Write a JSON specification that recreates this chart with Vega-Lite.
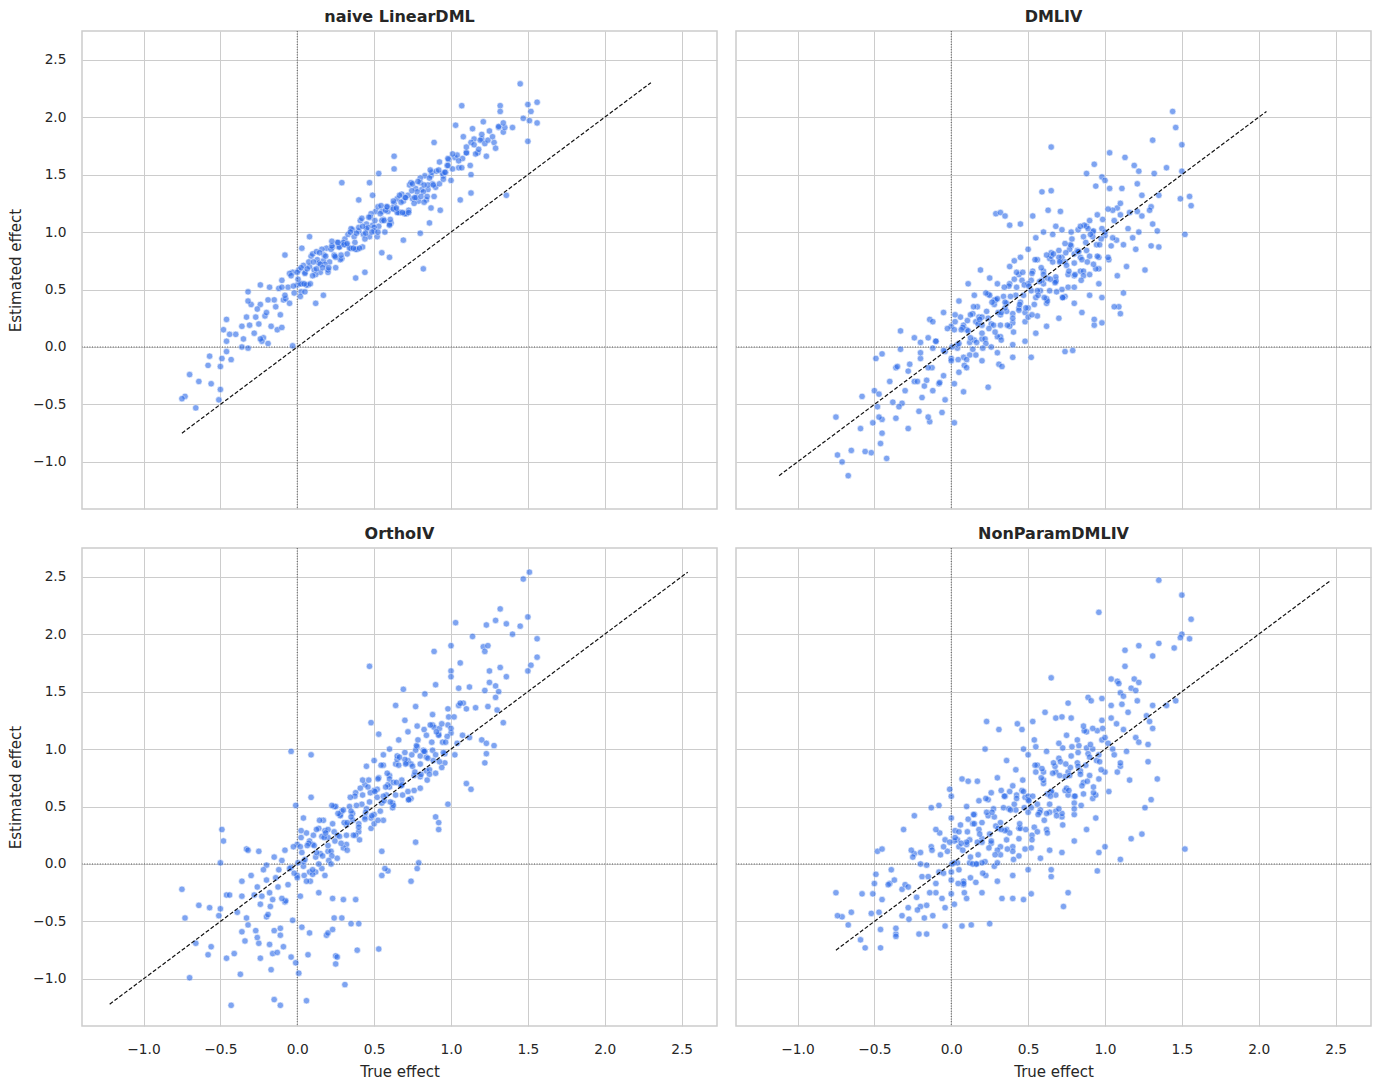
{
  "$schema": "https://vega.github.io/schema/vega-lite/v6.json",
  "description": "True vs estimated treatment effect for four estimators",
  "background": "white",
  "padding": {"left": 7, "top": 7, "right": 12, "bottom": 8},
  "config": {
    "font": "DejaVu Sans",
    "view": {"stroke": "#cccccc", "strokeWidth": 1.5},
    "axis": {
      "grid": true, "gridColor": "#cccccc", "gridWidth": 1,
      "domain": false, "ticks": false, "tickSize": 0,
      "labelFontSize": 13.75, "labelColor": "#262626", "labelPadding": 16,
      "titleFontSize": 15, "titleFontWeight": "normal", "titleColor": "#262626", "titlePadding": 9
    },
    "title": {"fontSize": 16, "fontWeight": "bold", "color": "#262626", "offset": 6}
  },
  "datasets": {
    "p1": [
      {"x":-0.30,"y":0.37},{"x":-0.27,"y":0.26},{"x":-0.24,"y":0.37},{"x":-0.21,"y":0.27},{"x":-0.18,"y":0.52},{"x":-0.15,"y":0.41},{"x":-0.12,"y":0.51},{"x":-0.09,"y":0.41},{"x":-0.06,"y":0.52},{"x":-0.03,"y":0.65},{"x":0.00,"y":0.54},
      {"x":0.01,"y":0.67},{"x":0.03,"y":0.55},{"x":0.05,"y":0.65},{"x":0.07,"y":0.54},{"x":0.09,"y":0.79},{"x":0.11,"y":0.67},{"x":0.13,"y":0.76},{"x":0.15,"y":0.65},{"x":0.17,"y":0.75},{"x":0.19,"y":0.86},{"x":0.21,"y":0.74},{"x":0.23,"y":0.87},{"x":0.25,"y":0.69},{"x":0.27,"y":0.87},{"x":0.29,"y":0.77},{"x":0.31,"y":0.94},{"x":0.33,"y":0.98},{"x":0.35,"y":0.86},{"x":0.37,"y":0.96},{"x":0.39,"y":0.85},{"x":0.41,"y":1.10},{"x":0.43,"y":0.98},{"x":0.45,"y":1.07},{"x":0.47,"y":0.96},{"x":0.49,"y":1.06},{"x":0.51,"y":1.18},{"x":0.53,"y":1.05},{"x":0.55,"y":1.18},{"x":0.57,"y":1.00},{"x":0.59,"y":1.18},{"x":0.61,"y":1.08},{"x":0.63,"y":1.25},{"x":0.65,"y":1.29},{"x":0.67,"y":1.17},{"x":0.69,"y":1.27},{"x":0.71,"y":1.16},{"x":0.73,"y":1.41},{"x":0.75,"y":1.29},{"x":0.77,"y":1.38},{"x":0.79,"y":1.27},{"x":0.81,"y":1.37},{"x":0.83,"y":1.49},{"x":0.85,"y":1.37},{"x":0.87,"y":1.49},{"x":0.89,"y":1.31},
      {"x":0.02,"y":0.55},{"x":0.04,"y":0.71},{"x":0.06,"y":0.54},{"x":0.08,"y":0.70},{"x":0.10,"y":0.81},{"x":0.12,"y":0.63},{"x":0.14,"y":0.73},{"x":0.16,"y":0.85},{"x":0.18,"y":0.72},{"x":0.20,"y":0.65},{"x":0.22,"y":0.85},{"x":0.24,"y":0.80},{"x":0.26,"y":0.91},{"x":0.28,"y":0.76},{"x":0.30,"y":0.90},{"x":0.32,"y":0.89},{"x":0.34,"y":0.86},{"x":0.36,"y":1.02},{"x":0.38,"y":0.85},{"x":0.40,"y":1.01},{"x":0.42,"y":1.12},{"x":0.44,"y":0.94},{"x":0.46,"y":1.04},{"x":0.48,"y":1.16},{"x":0.50,"y":1.04},{"x":0.52,"y":0.96},{"x":0.54,"y":1.16},{"x":0.56,"y":1.11},{"x":0.58,"y":1.22},{"x":0.60,"y":1.07},{"x":0.62,"y":1.21},{"x":0.64,"y":1.20},{"x":0.66,"y":1.17},{"x":0.68,"y":1.33},{"x":0.70,"y":1.16},{"x":0.72,"y":1.32},{"x":0.74,"y":1.43},{"x":0.76,"y":1.25},{"x":0.78,"y":1.35},{"x":0.80,"y":1.47},{"x":0.82,"y":1.35},{"x":0.84,"y":1.28},{"x":0.86,"y":1.47},{"x":0.88,"y":1.42},
      {"x":-0.100,"y":0.52},{"x":-0.075,"y":0.42},{"x":-0.050,"y":0.64},{"x":-0.025,"y":0.53},{"x":0.000,"y":0.65},{"x":0.025,"y":0.48},{"x":0.050,"y":0.64},{"x":0.075,"y":0.74},{"x":0.100,"y":0.62},{"x":0.125,"y":0.83},{"x":0.150,"y":0.72},{"x":0.175,"y":0.80},{"x":0.200,"y":0.67},{"x":0.225,"y":0.88},{"x":0.250,"y":0.78},{"x":0.275,"y":0.87},{"x":0.300,"y":0.91},{"x":0.325,"y":0.81},{"x":0.350,"y":1.03},{"x":0.375,"y":0.91},{"x":0.400,"y":1.04},{"x":0.425,"y":0.87},{"x":0.450,"y":1.03},{"x":0.475,"y":1.13},{"x":0.500,"y":1.01},{"x":0.525,"y":1.22},{"x":0.550,"y":1.10},{"x":0.575,"y":1.19},{"x":0.600,"y":1.06},{"x":0.625,"y":1.27},{"x":0.650,"y":1.17},{"x":0.675,"y":1.26},{"x":0.700,"y":1.30},{"x":0.725,"y":1.19},{"x":0.750,"y":1.42},{"x":0.775,"y":1.30},{"x":0.800,"y":1.43},{"x":0.825,"y":1.26},{"x":0.850,"y":1.41},{"x":0.875,"y":1.52},{"x":0.900,"y":1.39},{"x":0.925,"y":1.61},{"x":0.950,"y":1.49},{"x":0.975,"y":1.58},{"x":1.000,"y":1.45},{"x":1.025,"y":1.65},{"x":1.050,"y":1.56},{"x":1.075,"y":1.64},{"x":1.100,"y":1.69},{"x":1.125,"y":1.58},{"x":1.150,"y":1.81},{"x":1.175,"y":1.69},{"x":1.200,"y":1.81},
      {"x":0.005,"y":0.59},{"x":0.025,"y":0.69},{"x":0.045,"y":0.55},{"x":0.065,"y":0.68},{"x":0.085,"y":0.55},{"x":0.105,"y":0.74},{"x":0.125,"y":0.68},{"x":0.145,"y":0.82},{"x":0.165,"y":0.69},{"x":0.185,"y":0.79},{"x":0.205,"y":0.69},{"x":0.225,"y":0.92},{"x":0.245,"y":0.79},{"x":0.265,"y":0.91},{"x":0.285,"y":0.80},{"x":0.305,"y":0.89},{"x":0.325,"y":0.90},{"x":0.345,"y":1.00},{"x":0.365,"y":0.86},{"x":0.385,"y":0.99},{"x":0.405,"y":0.86},{"x":0.425,"y":1.05},{"x":0.445,"y":0.99},{"x":0.465,"y":1.13},{"x":0.485,"y":1.00},{"x":0.505,"y":1.10},{"x":0.525,"y":1.00},{"x":0.545,"y":1.23},{"x":0.565,"y":1.10},{"x":0.585,"y":1.22},{"x":0.605,"y":1.11},{"x":0.625,"y":1.20},{"x":0.645,"y":1.21},{"x":0.665,"y":1.32},{"x":0.685,"y":1.17},{"x":0.705,"y":1.30},{"x":0.725,"y":1.17},{"x":0.745,"y":1.36},{"x":0.765,"y":1.30},{"x":0.785,"y":1.44},{"x":0.805,"y":1.31},{"x":0.825,"y":1.41},{"x":0.845,"y":1.31},{"x":0.865,"y":1.54},{"x":0.885,"y":1.41},{"x":0.905,"y":1.53},{"x":0.925,"y":1.42},{"x":0.945,"y":1.51},{"x":0.965,"y":1.52},{"x":0.985,"y":1.63},
      {"x":0.92,"y":1.54},{"x":0.95,"y":1.46},{"x":0.98,"y":1.64},{"x":1.01,"y":1.55},{"x":1.04,"y":1.67},{"x":1.07,"y":1.56},{"x":1.10,"y":1.69},{"x":1.13,"y":1.78},{"x":1.16,"y":1.68},{"x":1.19,"y":1.80},{"x":1.22,"y":1.77},{"x":1.25,"y":1.88},{"x":1.28,"y":1.78},{"x":1.31,"y":1.91},{"x":1.34,"y":1.87},
      {"x":-0.28,"y":0.12},{"x":-0.25,"y":0.20},{"x":-0.22,"y":0.08},{"x":-0.20,"y":0.30},{"x":-0.17,"y":0.18},{"x":-0.14,"y":0.35},{"x":-0.11,"y":0.28},{"x":-0.08,"y":0.45},{"x":-0.05,"y":0.38},{"x":-0.02,"y":0.47},{"x":-0.35,"y":0.07},{"x":-0.31,"y":0.19},{"x":-0.26,"y":0.33},{"x":-0.19,"y":0.41},{"x":-0.10,"y":0.58},{"x":-0.04,"y":0.62},{"x":0.02,"y":0.44},{"x":0.05,"y":0.48},{"x":-0.13,"y":0.15},{"x":-0.23,"y":0.05},
      {"x":1.15,"y":1.76},{"x":1.18,"y":1.72},{"x":1.24,"y":1.80},{"x":1.27,"y":1.83},{"x":1.20,"y":1.85},{"x":1.10,"y":1.74},{"x":1.05,"y":1.62},{"x":0.98,"y":1.58},{"x":1.01,"y":1.68},{"x":0.96,"y":1.52},
      {"x":1.45,"y":2.29},{"x":1.07,"y":2.10},{"x":1.32,"y":2.10},{"x":1.32,"y":2.05},{"x":1.50,"y":2.11},{"x":1.56,"y":2.13},{"x":1.52,"y":2.05},{"x":1.47,"y":1.99},{"x":1.51,"y":1.97},{"x":1.56,"y":1.95},{"x":1.50,"y":1.79},{"x":1.40,"y":1.91},{"x":1.35,"y":1.91},{"x":1.31,"y":1.92},{"x":1.34,"y":1.95},{"x":1.21,"y":1.96},{"x":1.14,"y":1.90},{"x":1.03,"y":1.93},{"x":1.08,"y":1.83},{"x":1.29,"y":1.73},{"x":1.23,"y":1.66},{"x":0.89,"y":1.78},{"x":0.63,"y":1.66},{"x":0.63,"y":1.55},{"x":0.29,"y":1.43},{"x":0.47,"y":1.43},{"x":0.53,"y":1.51},{"x":0.49,"y":1.32},{"x":0.40,"y":1.28},{"x":1.13,"y":1.50},{"x":1.13,"y":1.34},{"x":1.06,"y":1.28},{"x":1.36,"y":1.32},{"x":0.93,"y":1.19},{"x":0.87,"y":1.21},{"x":0.86,"y":1.08},{"x":0.80,"y":0.99},{"x":0.82,"y":0.68},{"x":0.69,"y":0.93},{"x":0.60,"y":0.78},{"x":0.55,"y":0.82},{"x":0.44,"y":0.65},{"x":0.38,"y":0.60},{"x":0.17,"y":0.45},{"x":0.12,"y":0.38},{"x":0.03,"y":0.86},{"x":0.08,"y":0.96},{"x":-0.08,"y":0.80},{"x":-0.24,"y":0.54},{"x":-0.32,"y":0.48},{"x":-0.32,"y":0.40},{"x":-0.46,"y":0.24},{"x":-0.48,"y":0.15},{"x":-0.46,"y":0.05},{"x":-0.44,"y":0.11},{"x":-0.40,"y":0.11},{"x":-0.36,"y":0.18},{"x":-0.33,"y":0.26},{"x":-0.36,"y":0.00},{"x":-0.32,"y":-0.01},{"x":-0.19,"y":0.03},{"x":-0.24,"y":0.07},{"x":-0.10,"y":0.17},{"x":-0.03,"y":0.01},{"x":-0.46,"y":-0.04},{"x":-0.49,"y":-0.10},{"x":-0.43,"y":-0.11},{"x":-0.57,"y":-0.08},{"x":-0.58,"y":-0.16},{"x":-0.50,"y":-0.17},{"x":-0.70,"y":-0.24},{"x":-0.64,"y":-0.30},{"x":-0.56,"y":-0.32},{"x":-0.50,"y":-0.37},{"x":-0.51,"y":-0.46},{"x":-0.73,"y":-0.43},{"x":-0.75,"y":-0.45},{"x":-0.66,"y":-0.53}
    ],
    "p2": [
      {"x":-0.36,"y":-0.18},{"x":-0.32,"y":-0.49},{"x":-0.28,"y":-0.21},{"x":-0.24,"y":-0.30},{"x":-0.20,"y":0.04},{"x":-0.16,"y":-0.29},{"x":-0.12,"y":-0.01},{"x":-0.08,"y":-0.32},{"x":-0.04,"y":-0.04},{"x":0.00,"y":0.18},{"x":0.04,"y":-0.01},{"x":0.08,"y":0.19},{"x":0.12,"y":-0.07},{"x":0.16,"y":0.22},{"x":0.20,"y":0.07},{"x":0.24,"y":0.25},{"x":0.28,"y":0.41},{"x":0.32,"y":0.09},{"x":0.36,"y":0.38},{"x":0.40,"y":0.29},{"x":0.44,"y":0.63},{"x":0.48,"y":0.30},{"x":0.52,"y":0.58},{"x":0.56,"y":0.27},{"x":0.60,"y":0.55},{"x":0.64,"y":0.77},{"x":0.68,"y":0.58},{"x":0.72,"y":0.78},{"x":0.76,"y":0.52},{"x":0.80,"y":0.81},{"x":0.84,"y":0.66},{"x":0.88,"y":0.84},{"x":0.92,"y":1.00},{"x":0.96,"y":0.68},{"x":1.00,"y":0.97},{"x":1.04,"y":0.88},{"x":1.08,"y":1.21},{"x":1.12,"y":0.89},{"x":1.16,"y":1.17},{"x":1.20,"y":0.85},{"x":1.24,"y":1.14},
      {"x":0.00,"y":-0.10},{"x":0.02,"y":0.15},{"x":0.04,"y":0.02},{"x":0.06,"y":0.26},{"x":0.08,"y":-0.09},{"x":0.10,"y":0.15},{"x":0.12,"y":0.04},{"x":0.14,"y":0.29},{"x":0.16,"y":-0.07},{"x":0.18,"y":0.26},{"x":0.20,"y":0.19},{"x":0.22,"y":0.07},{"x":0.24,"y":0.46},{"x":0.26,"y":0.20},{"x":0.28,"y":0.37},{"x":0.30,"y":0.09},{"x":0.32,"y":0.19},{"x":0.34,"y":0.44},{"x":0.36,"y":0.31},{"x":0.38,"y":0.55},{"x":0.40,"y":0.21},{"x":0.42,"y":0.45},{"x":0.44,"y":0.34},{"x":0.46,"y":0.58},{"x":0.48,"y":0.22},{"x":0.50,"y":0.55},{"x":0.52,"y":0.49},{"x":0.54,"y":0.37},{"x":0.56,"y":0.76},{"x":0.58,"y":0.49},{"x":0.60,"y":0.66},{"x":0.62,"y":0.38},{"x":0.64,"y":0.49},{"x":0.66,"y":0.74},{"x":0.68,"y":0.61},{"x":0.70,"y":0.84},{"x":0.72,"y":0.50},{"x":0.74,"y":0.74},{"x":0.76,"y":0.63},{"x":0.78,"y":0.88},{"x":0.80,"y":0.52},{"x":0.82,"y":0.84},{"x":0.84,"y":0.78},{"x":0.86,"y":0.66},{"x":0.88,"y":1.05},{"x":0.90,"y":0.79},{"x":0.92,"y":0.96},{"x":0.94,"y":0.68},{"x":0.96,"y":0.78},{"x":0.98,"y":1.03},
      {"x":0.11,"y":0.14},{"x":0.14,"y":-0.02},{"x":0.17,"y":0.35},{"x":0.20,"y":0.12},{"x":0.23,"y":0.31},{"x":0.26,"y":0.00},{"x":0.29,"y":0.41},{"x":0.32,"y":0.28},{"x":0.35,"y":0.39},{"x":0.38,"y":0.18},{"x":0.41,"y":0.59},{"x":0.44,"y":0.32},{"x":0.47,"y":0.45},{"x":0.50,"y":0.34},{"x":0.53,"y":0.66},{"x":0.56,"y":0.49},{"x":0.59,"y":0.58},{"x":0.62,"y":0.42},{"x":0.65,"y":0.79},{"x":0.68,"y":0.57},{"x":0.71,"y":0.75},{"x":0.74,"y":0.44},{"x":0.77,"y":0.85},{"x":0.80,"y":0.73},{"x":0.83,"y":0.83},{"x":0.86,"y":0.62},{"x":0.89,"y":1.03},
      {"x":-0.200,"y":-0.10},{"x":-0.175,"y":-0.34},{"x":-0.150,"y":0.08},{"x":-0.125,"y":-0.18},{"x":-0.100,"y":0.05},{"x":-0.075,"y":-0.31},{"x":-0.050,"y":-0.03},{"x":-0.025,"y":0.16},{"x":0.000,"y":-0.12},{"x":0.025,"y":0.28},{"x":0.050,"y":0.03},{"x":0.075,"y":0.17},{"x":0.100,"y":-0.11},{"x":0.125,"y":0.28},{"x":0.150,"y":0.06},{"x":0.175,"y":0.20},{"x":0.200,"y":0.26},{"x":0.225,"y":0.03},{"x":0.250,"y":0.45},{"x":0.275,"y":0.19},{"x":0.300,"y":0.42},{"x":0.325,"y":0.06},{"x":0.350,"y":0.34},{"x":0.375,"y":0.53},{"x":0.400,"y":0.25},{"x":0.425,"y":0.65},{"x":0.450,"y":0.39},{"x":0.475,"y":0.54},{"x":0.500,"y":0.26},{"x":0.525,"y":0.64},{"x":0.550,"y":0.43},{"x":0.575,"y":0.57},{"x":0.600,"y":0.63},{"x":0.625,"y":0.40},{"x":0.650,"y":0.82},{"x":0.675,"y":0.56},{"x":0.700,"y":0.78},{"x":0.725,"y":0.43},{"x":0.750,"y":0.71},{"x":0.775,"y":0.89},{"x":0.800,"y":0.62},{"x":0.825,"y":1.02},{"x":0.850,"y":0.76},{"x":0.875,"y":0.91},{"x":0.900,"y":0.63},{"x":0.925,"y":1.01},{"x":0.950,"y":0.79},{"x":0.975,"y":0.94},{"x":1.000,"y":1.00},{"x":1.025,"y":0.76},{"x":1.050,"y":1.19},{"x":1.075,"y":0.93},{"x":1.100,"y":1.15},
      {"x":0.005,"y":0.00},{"x":0.025,"y":0.22},{"x":0.045,"y":-0.11},{"x":0.065,"y":0.15},{"x":0.085,"y":-0.16},{"x":0.105,"y":0.23},{"x":0.125,"y":0.08},{"x":0.145,"y":0.35},{"x":0.165,"y":0.04},{"x":0.185,"y":0.24},{"x":0.205,"y":-0.01},{"x":0.225,"y":0.47},{"x":0.245,"y":0.16},{"x":0.265,"y":0.39},{"x":0.285,"y":0.13},{"x":0.305,"y":0.30},{"x":0.325,"y":0.30},{"x":0.345,"y":0.52},{"x":0.365,"y":0.19},{"x":0.385,"y":0.44},{"x":0.405,"y":0.13},{"x":0.425,"y":0.52},{"x":0.445,"y":0.37},{"x":0.465,"y":0.65},{"x":0.485,"y":0.34},{"x":0.505,"y":0.53},{"x":0.525,"y":0.28},{"x":0.545,"y":0.76},{"x":0.565,"y":0.45},{"x":0.585,"y":0.69},{"x":0.605,"y":0.43},{"x":0.625,"y":0.60},{"x":0.645,"y":0.59},{"x":0.665,"y":0.81},{"x":0.685,"y":0.48},{"x":0.705,"y":0.74},{"x":0.725,"y":0.43},{"x":0.745,"y":0.82},{"x":0.765,"y":0.66},{"x":0.785,"y":0.94},{"x":0.805,"y":0.63},{"x":0.825,"y":0.83},{"x":0.845,"y":0.58},{"x":0.865,"y":1.06},{"x":0.885,"y":0.74},{"x":0.905,"y":0.98},{"x":0.925,"y":0.72},{"x":0.945,"y":0.89},{"x":0.965,"y":0.89},{"x":0.985,"y":1.11},
      {"x":0.55,"y":0.95},{"x":0.60,"y":1.00},{"x":0.66,"y":0.98},{"x":0.72,"y":1.02},{"x":0.78,"y":1.00},{"x":0.84,"y":1.05},{"x":0.90,"y":1.10},{"x":0.95,"y":1.15},{"x":1.02,"y":1.20},{"x":1.06,"y":1.10},{"x":1.10,"y":1.25},{"x":1.15,"y":1.03},{"x":1.18,"y":0.95},{"x":1.22,"y":1.00},{"x":1.02,"y":0.78},{"x":1.08,"y":0.62},{"x":1.14,"y":0.70},{"x":0.96,"y":0.55},{"x":0.90,"y":0.45},{"x":0.85,"y":0.30},{"x":0.80,"y":0.38},{"x":0.70,"y":0.25},{"x":0.62,"y":0.18},{"x":0.55,"y":0.12},{"x":0.48,"y":0.05},{"x":0.40,"y":0.02},{"x":0.30,"y":-0.05},{"x":0.20,"y":-0.12},{"x":0.10,"y":-0.18},{"x":0.05,"y":-0.22},{"x":-0.05,"y":-0.25},{"x":-0.15,"y":-0.18},{"x":-0.22,"y":-0.30},{"x":-0.27,"y":-0.15},{"x":-0.30,"y":-0.38},{"x":-0.40,"y":-0.30},{"x":-0.20,"y":-0.05},{"x":-0.10,"y":0.05},{"x":0.50,"y":0.85},{"x":0.45,"y":0.78},{"x":0.38,"y":0.70},{"x":0.30,"y":0.55},{"x":0.25,"y":0.60},{"x":0.15,"y":0.45},{"x":0.05,"y":0.40},{"x":0.68,"y":1.05},{"x":0.86,"y":0.96},{"x":1.05,"y":0.95},{"x":0.74,"y":0.90},{"x":0.62,"y":0.80},
      {"x":1.44,"y":2.05},{"x":1.46,"y":1.91},{"x":1.50,"y":1.76},{"x":0.65,"y":1.74},{"x":1.31,"y":1.80},{"x":1.03,"y":1.69},{"x":1.13,"y":1.65},{"x":1.19,"y":1.58},{"x":0.93,"y":1.59},{"x":1.22,"y":1.53},{"x":1.32,"y":1.51},{"x":1.40,"y":1.56},{"x":1.50,"y":1.53},{"x":0.88,"y":1.51},{"x":0.98,"y":1.48},{"x":1.00,"y":1.45},{"x":0.94,"y":1.40},{"x":1.03,"y":1.38},{"x":1.11,"y":1.38},{"x":1.21,"y":1.42},{"x":1.35,"y":1.32},{"x":1.55,"y":1.31},{"x":1.49,"y":1.29},{"x":1.56,"y":1.23},{"x":1.52,"y":0.98},{"x":1.24,"y":1.32},{"x":0.59,"y":1.35},{"x":0.65,"y":1.36},{"x":0.29,"y":1.16},{"x":0.32,"y":1.17},{"x":0.35,"y":1.14},{"x":0.53,"y":1.14},{"x":0.38,"y":1.06},{"x":0.45,"y":1.07},{"x":0.63,"y":1.19},{"x":0.71,"y":1.18},{"x":1.30,"y":1.22},{"x":1.29,"y":1.19},{"x":1.21,"y":1.18},{"x":1.31,"y":1.07},{"x":1.34,"y":1.01},{"x":1.35,"y":0.87},{"x":1.30,"y":0.88},{"x":1.26,"y":0.67},{"x":1.12,"y":0.47},{"x":1.09,"y":0.35},{"x":1.10,"y":0.29},{"x":1.06,"y":0.35},{"x":0.98,"y":0.21},{"x":0.93,"y":0.19},{"x":0.93,"y":0.24},{"x":0.98,"y":0.43},{"x":0.79,"y":-0.03},{"x":0.74,"y":-0.04},{"x":0.52,"y":-0.09},{"x":0.40,"y":-0.09},{"x":0.24,"y":-0.35},{"x":0.08,"y":-0.39},{"x":0.02,"y":-0.32},{"x":0.02,"y":-0.66},{"x":-0.06,"y":-0.57},{"x":-0.04,"y":-0.46},{"x":-0.14,"y":-0.65},{"x":-0.15,"y":-0.61},{"x":-0.21,"y":-0.56},{"x":-0.28,"y":-0.71},{"x":-0.36,"y":-0.62},{"x":-0.38,"y":-0.48},{"x":-0.34,"y":-0.52},{"x":-0.45,"y":-0.63},{"x":-0.47,"y":-0.61},{"x":-0.51,"y":-0.66},{"x":-0.48,"y":-0.52},{"x":-0.46,"y":-0.84},{"x":-0.45,"y":-0.75},{"x":-0.42,"y":-0.97},{"x":-0.52,"y":-0.92},{"x":-0.56,"y":-0.91},{"x":-0.65,"y":-0.90},{"x":-0.75,"y":-0.61},{"x":-0.74,"y":-0.94},{"x":-0.71,"y":-1.00},{"x":-0.67,"y":-1.12},{"x":-0.59,"y":-0.71},{"x":-0.58,"y":-0.43},{"x":-0.50,"y":-0.38},{"x":-0.47,"y":-0.41},{"x":-0.49,"y":-0.10},{"x":-0.45,"y":-0.06},{"x":-0.35,"y":-0.17},{"x":-0.33,"y":0.14},{"x":-0.33,"y":-0.02},{"x":-0.24,"y":0.08},{"x":-0.12,"y":-0.38},{"x":-0.19,"y":-0.44},{"x":-0.05,"y":0.30},{"x":-0.14,"y":0.24},{"x":-0.12,"y":0.22},{"x":0.11,"y":0.55},{"x":0.19,"y":0.67},{"x":0.41,"y":0.75},{"x":0.31,"y":-0.15},{"x":0.33,"y":-0.17}
    ],
    "p3": [
      {"x":-0.36,"y":-0.28},{"x":-0.32,"y":-0.53},{"x":-0.28,"y":-0.27},{"x":-0.24,"y":-0.35},{"x":-0.20,"y":-0.01},{"x":-0.16,"y":-0.31},{"x":-0.12,"y":-0.05},{"x":-0.08,"y":-0.33},{"x":-0.04,"y":-0.03},{"x":0.00,"y":0.17},{"x":0.04,"y":-0.02},{"x":0.08,"y":0.20},{"x":0.12,"y":-0.07},{"x":0.16,"y":0.24},{"x":0.20,"y":0.11},{"x":0.24,"y":0.28},{"x":0.28,"y":0.43},{"x":0.32,"y":0.17},{"x":0.36,"y":0.44},{"x":0.40,"y":0.35},{"x":0.44,"y":0.69},{"x":0.48,"y":0.40},{"x":0.52,"y":0.65},{"x":0.56,"y":0.38},{"x":0.60,"y":0.67},{"x":0.64,"y":0.87},{"x":0.68,"y":0.69},{"x":0.72,"y":0.90},{"x":0.76,"y":0.64},{"x":0.80,"y":0.94},{"x":0.84,"y":0.81},{"x":0.88,"y":0.99},{"x":0.92,"y":1.13},{"x":0.96,"y":0.88},{"x":1.00,"y":1.14},{"x":1.04,"y":1.05},{"x":1.08,"y":1.40},{"x":1.12,"y":1.10},{"x":1.16,"y":1.36},{"x":1.20,"y":1.08},{"x":1.24,"y":1.37},
      {"x":0.00,"y":-0.10},{"x":0.02,"y":0.15},{"x":0.04,"y":0.02},{"x":0.06,"y":0.27},{"x":0.08,"y":-0.07},{"x":0.10,"y":0.17},{"x":0.12,"y":0.06},{"x":0.14,"y":0.31},{"x":0.16,"y":-0.04},{"x":0.18,"y":0.29},{"x":0.20,"y":0.23},{"x":0.22,"y":0.11},{"x":0.24,"y":0.50},{"x":0.26,"y":0.25},{"x":0.28,"y":0.42},{"x":0.30,"y":0.14},{"x":0.32,"y":0.25},{"x":0.34,"y":0.50},{"x":0.36,"y":0.38},{"x":0.38,"y":0.62},{"x":0.40,"y":0.28},{"x":0.42,"y":0.52},{"x":0.44,"y":0.41},{"x":0.46,"y":0.67},{"x":0.48,"y":0.31},{"x":0.50,"y":0.64},{"x":0.52,"y":0.58},{"x":0.54,"y":0.46},{"x":0.56,"y":0.86},{"x":0.58,"y":0.60},{"x":0.60,"y":0.77},{"x":0.62,"y":0.49},{"x":0.64,"y":0.60},{"x":0.66,"y":0.86},{"x":0.68,"y":0.73},{"x":0.70,"y":0.97},{"x":0.72,"y":0.63},{"x":0.74,"y":0.87},{"x":0.76,"y":0.77},{"x":0.78,"y":1.02},{"x":0.80,"y":0.66},{"x":0.82,"y":0.99},{"x":0.84,"y":0.93},{"x":0.86,"y":0.82},{"x":0.88,"y":1.21},{"x":0.90,"y":0.95},{"x":0.92,"y":1.12},{"x":0.94,"y":0.84},{"x":0.96,"y":0.96},{"x":0.98,"y":1.21},
      {"x":0.11,"y":0.16},{"x":0.14,"y":0.00},{"x":0.17,"y":0.38},{"x":0.20,"y":0.16},{"x":0.23,"y":0.35},{"x":0.26,"y":0.05},{"x":0.29,"y":0.46},{"x":0.32,"y":0.34},{"x":0.35,"y":0.46},{"x":0.38,"y":0.25},{"x":0.41,"y":0.66},{"x":0.44,"y":0.39},{"x":0.47,"y":0.54},{"x":0.50,"y":0.43},{"x":0.53,"y":0.75},{"x":0.56,"y":0.59},{"x":0.59,"y":0.69},{"x":0.62,"y":0.53},{"x":0.65,"y":0.91},{"x":0.68,"y":0.69},{"x":0.71,"y":0.88},{"x":0.74,"y":0.57},{"x":0.77,"y":0.99},{"x":0.80,"y":0.87},{"x":0.83,"y":0.98},{"x":0.86,"y":0.78},{"x":0.89,"y":1.19},
      {"x":-0.200,"y":-0.14},{"x":-0.175,"y":-0.37},{"x":-0.150,"y":0.06},{"x":-0.125,"y":-0.20},{"x":-0.100,"y":0.03},{"x":-0.075,"y":-0.32},{"x":-0.050,"y":-0.04},{"x":-0.025,"y":0.15},{"x":0.000,"y":-0.12},{"x":0.025,"y":0.29},{"x":0.050,"y":0.04},{"x":0.075,"y":0.18},{"x":0.100,"y":-0.09},{"x":0.125,"y":0.30},{"x":0.150,"y":0.09},{"x":0.175,"y":0.23},{"x":0.200,"y":0.30},{"x":0.225,"y":0.07},{"x":0.250,"y":0.50},{"x":0.275,"y":0.24},{"x":0.300,"y":0.47},{"x":0.325,"y":0.12},{"x":0.350,"y":0.41},{"x":0.375,"y":0.59},{"x":0.400,"y":0.32},{"x":0.425,"y":0.73},{"x":0.450,"y":0.48},{"x":0.475,"y":0.62},{"x":0.500,"y":0.35},{"x":0.525,"y":0.74},{"x":0.550,"y":0.53},{"x":0.575,"y":0.67},{"x":0.600,"y":0.74},{"x":0.625,"y":0.51},{"x":0.650,"y":0.94},{"x":0.675,"y":0.68},{"x":0.700,"y":0.91},{"x":0.725,"y":0.56},{"x":0.750,"y":0.85},{"x":0.775,"y":1.03},{"x":0.800,"y":0.76},{"x":0.825,"y":1.17},{"x":0.850,"y":0.92},{"x":0.875,"y":1.06},{"x":0.900,"y":0.79},{"x":0.925,"y":1.18},{"x":0.950,"y":0.97},{"x":0.975,"y":1.11},{"x":1.000,"y":1.18},{"x":1.025,"y":0.95},{"x":1.050,"y":1.38},{"x":1.075,"y":1.12},{"x":1.100,"y":1.35},
      {"x":0.005,"y":0.01},{"x":0.025,"y":0.23},{"x":0.045,"y":-0.10},{"x":0.065,"y":0.16},{"x":0.085,"y":-0.15},{"x":0.105,"y":0.25},{"x":0.125,"y":0.10},{"x":0.145,"y":0.38},{"x":0.165,"y":0.07},{"x":0.185,"y":0.27},{"x":0.205,"y":0.03},{"x":0.225,"y":0.51},{"x":0.245,"y":0.20},{"x":0.265,"y":0.44},{"x":0.285,"y":0.18},{"x":0.305,"y":0.36},{"x":0.325,"y":0.36},{"x":0.345,"y":0.58},{"x":0.365,"y":0.25},{"x":0.385,"y":0.51},{"x":0.405,"y":0.21},{"x":0.425,"y":0.60},{"x":0.445,"y":0.45},{"x":0.465,"y":0.73},{"x":0.485,"y":0.42},{"x":0.505,"y":0.63},{"x":0.525,"y":0.38},{"x":0.545,"y":0.86},{"x":0.565,"y":0.55},{"x":0.585,"y":0.79},{"x":0.605,"y":0.54},{"x":0.625,"y":0.71},{"x":0.645,"y":0.71},{"x":0.665,"y":0.93},{"x":0.685,"y":0.60},{"x":0.705,"y":0.87},{"x":0.725,"y":0.56},{"x":0.745,"y":0.95},{"x":0.765,"y":0.80},{"x":0.785,"y":1.08},{"x":0.805,"y":0.78},{"x":0.825,"y":0.98},{"x":0.845,"y":0.73},{"x":0.865,"y":1.21},{"x":0.885,"y":0.90},{"x":0.905,"y":1.15},{"x":0.925,"y":0.89},{"x":0.945,"y":1.06},{"x":0.965,"y":1.06},{"x":0.985,"y":1.28},
      {"x":-0.30,"y":-0.10},{"x":-0.26,"y":-0.20},{"x":-0.22,"y":-0.05},{"x":-0.18,"y":-0.25},{"x":-0.14,"y":-0.12},{"x":-0.10,"y":-0.30},{"x":-0.06,"y":-0.18},{"x":-0.02,"y":-0.08},{"x":0.02,"y":-0.28},{"x":0.06,"y":-0.15},{"x":0.10,"y":-0.05},{"x":0.14,"y":-0.25},{"x":0.18,"y":-0.10},{"x":0.22,"y":0.00},{"x":0.03,"y":0.10},{"x":-0.08,"y":0.12},{"x":0.60,"y":1.00},{"x":0.66,"y":1.08},{"x":0.72,"y":1.15},{"x":0.78,"y":1.20},{"x":0.84,"y":1.12},{"x":0.88,"y":1.30},{"x":0.94,"y":1.22},{"x":0.98,"y":1.35},{"x":1.02,"y":1.28},{"x":1.06,"y":1.40},{"x":0.70,"y":1.25},{"x":0.56,"y":0.95},{"x":0.50,"y":0.90},{"x":0.45,"y":0.85},
      {"x":1.51,"y":2.54},{"x":1.47,"y":2.48},{"x":1.50,"y":2.15},{"x":1.32,"y":2.22},{"x":1.29,"y":2.12},{"x":1.23,"y":2.08},{"x":1.36,"y":2.09},{"x":1.45,"y":2.07},{"x":1.40,"y":2.00},{"x":1.56,"y":1.96},{"x":1.03,"y":2.10},{"x":1.14,"y":1.98},{"x":1.00,"y":1.90},{"x":0.89,"y":1.85},{"x":1.21,"y":1.89},{"x":1.24,"y":1.90},{"x":1.22,"y":1.85},{"x":1.56,"y":1.80},{"x":1.52,"y":1.73},{"x":1.50,"y":1.68},{"x":1.32,"y":1.71},{"x":1.25,"y":1.68},{"x":1.36,"y":1.63},{"x":1.00,"y":1.68},{"x":1.00,"y":1.63},{"x":1.06,"y":1.75},{"x":0.47,"y":1.72},{"x":0.69,"y":1.52},{"x":0.48,"y":1.23},{"x":0.53,"y":1.13},{"x":0.64,"y":1.38},{"x":0.77,"y":1.37},{"x":0.83,"y":1.48},{"x":0.90,"y":1.56},{"x":1.05,"y":1.53},{"x":1.12,"y":1.54},{"x":1.22,"y":1.51},{"x":1.25,"y":1.58},{"x":1.29,"y":1.55},{"x":1.31,"y":1.50},{"x":1.29,"y":1.45},{"x":1.34,"y":1.23},{"x":1.30,"y":1.34},{"x":1.28,"y":1.03},{"x":1.23,"y":1.05},{"x":1.23,"y":0.96},{"x":1.22,"y":0.88},{"x":1.10,"y":0.70},{"x":1.13,"y":0.65},{"x":0.98,"y":0.52},{"x":0.92,"y":0.30},{"x":0.92,"y":0.36},{"x":0.90,"y":0.41},{"x":0.79,"y":0.01},{"x":0.78,"y":-0.04},{"x":0.74,"y":-0.15},{"x":0.59,"y":-0.06},{"x":0.57,"y":-0.04},{"x":0.55,"y":-0.10},{"x":0.55,"y":0.11},{"x":0.77,"y":0.19},{"x":-0.04,"y":0.98},{"x":0.09,"y":0.95},{"x":0.09,"y":0.58},{"x":-0.01,"y":0.51},{"x":0.04,"y":0.40},{"x":-0.49,"y":0.30},{"x":-0.48,"y":0.20},{"x":-0.50,"y":0.01},{"x":-0.75,"y":-0.22},{"x":-0.73,"y":-0.47},{"x":-0.64,"y":-0.36},{"x":-0.57,"y":-0.38},{"x":-0.50,"y":-0.39},{"x":-0.51,"y":-0.45},{"x":-0.66,"y":-0.69},{"x":-0.56,"y":-0.72},{"x":-0.58,"y":-0.79},{"x":-0.70,"y":-0.99},{"x":-0.46,"y":-0.82},{"x":-0.41,"y":-0.78},{"x":-0.37,"y":-0.96},{"x":-0.43,"y":-1.23},{"x":-0.15,"y":-1.18},{"x":-0.11,"y":-1.23},{"x":0.06,"y":-1.19},{"x":0.01,"y":-0.95},{"x":-0.01,"y":-0.86},{"x":-0.04,"y":-0.81},{"x":0.07,"y":-0.79},{"x":-0.17,"y":-0.92},{"x":-0.24,"y":-0.82},{"x":-0.16,"y":-0.78},{"x":-0.13,"y":-0.77},{"x":-0.18,"y":-0.70},{"x":-0.09,"y":-0.72},{"x":-0.34,"y":-0.67},{"x":-0.25,"y":-0.69},{"x":-0.26,"y":-0.64},{"x":-0.36,"y":-0.59},{"x":-0.27,"y":-0.58},{"x":-0.20,"y":-0.46},{"x":-0.15,"y":-0.58},{"x":-0.11,"y":-0.56},{"x":-0.11,"y":-0.62},{"x":-0.03,"y":-0.49},{"x":0.03,"y":-0.55},{"x":0.08,"y":-0.60},{"x":0.19,"y":-0.62},{"x":0.20,"y":-0.60},{"x":0.23,"y":-0.57},{"x":0.25,"y":-0.80},{"x":0.25,"y":-0.87},{"x":0.26,"y":-0.81},{"x":0.29,"y":-0.47},{"x":0.24,"y":-0.47},{"x":0.31,"y":-1.05},{"x":0.39,"y":-0.75},{"x":0.53,"y":-0.74},{"x":0.35,"y":-0.52},{"x":0.40,"y":-0.52},{"x":0.38,"y":-0.31},{"x":0.30,"y":-0.31},{"x":0.23,"y":-0.30},{"x":-0.33,"y":0.13},{"x":-0.32,"y":0.12},{"x":-0.25,"y":0.11},{"x":-0.36,"y":-0.15},{"x":-0.33,"y":-0.47},{"x":-0.23,"y":-0.28},{"x":-0.19,"y":-0.44},{"x":-0.46,"y":-0.27},{"x":-0.44,"y":-0.27},{"x":-0.39,"y":-0.42}
    ],
    "p4": [
      {"x":-0.40,"y":-0.17},{"x":-0.36,"y":-0.61},{"x":-0.32,"y":-0.22},{"x":-0.28,"y":-0.38},{"x":-0.24,"y":0.09},{"x":-0.20,"y":-0.37},{"x":-0.16,"y":-0.01},{"x":-0.12,"y":-0.45},{"x":-0.08,"y":-0.07},{"x":-0.04,"y":0.21},{"x":0.00,"y":-0.07},{"x":0.04,"y":0.21},{"x":0.08,"y":-0.18},{"x":0.12,"y":0.21},{"x":0.16,"y":0.00},{"x":0.20,"y":0.22},{"x":0.24,"y":0.42},{"x":0.28,"y":-0.02},{"x":0.32,"y":0.36},{"x":0.36,"y":0.21},{"x":0.40,"y":0.68},{"x":0.44,"y":0.22},{"x":0.48,"y":0.58},{"x":0.52,"y":0.14},{"x":0.56,"y":0.52},{"x":0.60,"y":0.80},{"x":0.64,"y":0.52},{"x":0.68,"y":0.80},{"x":0.72,"y":0.41},{"x":0.76,"y":0.80},{"x":0.80,"y":0.59},{"x":0.84,"y":0.81},{"x":0.88,"y":1.01},{"x":0.92,"y":0.57},{"x":0.96,"y":0.95},{"x":1.00,"y":0.80},{"x":1.04,"y":1.27},{"x":1.08,"y":0.80},{"x":1.12,"y":1.17},{"x":1.16,"y":0.73},{"x":1.20,"y":1.10},
      {"x":0.00,"y":-0.14},{"x":0.02,"y":0.20},{"x":0.04,"y":0.01},{"x":0.06,"y":0.34},{"x":0.08,"y":-0.15},{"x":0.10,"y":0.17},{"x":0.12,"y":0.01},{"x":0.14,"y":0.35},{"x":0.16,"y":-0.16},{"x":0.18,"y":0.30},{"x":0.20,"y":0.19},{"x":0.22,"y":0.02},{"x":0.24,"y":0.56},{"x":0.26,"y":0.18},{"x":0.28,"y":0.41},{"x":0.30,"y":0.01},{"x":0.32,"y":0.15},{"x":0.34,"y":0.49},{"x":0.36,"y":0.30},{"x":0.38,"y":0.63},{"x":0.40,"y":0.15},{"x":0.42,"y":0.47},{"x":0.44,"y":0.31},{"x":0.46,"y":0.64},{"x":0.48,"y":0.13},{"x":0.50,"y":0.59},{"x":0.52,"y":0.49},{"x":0.54,"y":0.32},{"x":0.56,"y":0.86},{"x":0.58,"y":0.47},{"x":0.60,"y":0.70},{"x":0.62,"y":0.30},{"x":0.64,"y":0.45},{"x":0.66,"y":0.79},{"x":0.68,"y":0.60},{"x":0.70,"y":0.92},{"x":0.72,"y":0.44},{"x":0.74,"y":0.76},{"x":0.76,"y":0.60},{"x":0.78,"y":0.94},{"x":0.80,"y":0.43},{"x":0.82,"y":0.88},{"x":0.84,"y":0.78},{"x":0.86,"y":0.61},{"x":0.88,"y":1.15},{"x":0.90,"y":0.77},{"x":0.92,"y":1.00},{"x":0.94,"y":0.60},{"x":0.96,"y":0.74},{"x":0.98,"y":1.08},
      {"x":-0.19,"y":-0.11},{"x":-0.16,"y":-0.36},{"x":-0.13,"y":0.15},{"x":-0.10,"y":-0.17},{"x":-0.07,"y":0.08},{"x":-0.04,"y":-0.38},{"x":-0.01,"y":0.19},{"x":0.02,"y":0.01},{"x":0.05,"y":0.15},{"x":0.08,"y":-0.17},{"x":0.11,"y":0.39},{"x":0.14,"y":0.00},{"x":0.17,"y":0.19},{"x":0.20,"y":0.01},{"x":0.23,"y":0.45},{"x":0.26,"y":0.20},{"x":0.29,"y":0.33},{"x":0.32,"y":0.08},{"x":0.35,"y":0.59},{"x":0.38,"y":0.27},{"x":0.41,"y":0.52},{"x":0.44,"y":0.07},{"x":0.47,"y":0.63},{"x":0.50,"y":0.45},{"x":0.53,"y":0.59},{"x":0.56,"y":0.28},{"x":0.59,"y":0.83},{"x":0.62,"y":0.44},{"x":0.65,"y":0.63},{"x":0.68,"y":0.46},{"x":0.71,"y":0.89},{"x":0.74,"y":0.64},{"x":0.77,"y":0.77},{"x":0.80,"y":0.53},{"x":0.83,"y":1.03},{"x":0.86,"y":0.71},{"x":0.89,"y":0.96},
      {"x":-0.300,"y":-0.18},{"x":-0.275,"y":-0.48},{"x":-0.250,"y":0.06},{"x":-0.225,"y":-0.29},{"x":-0.200,"y":0.00},{"x":-0.175,"y":-0.47},{"x":-0.150,"y":-0.11},{"x":-0.125,"y":0.12},{"x":-0.100,"y":-0.25},{"x":-0.075,"y":0.27},{"x":-0.050,"y":-0.08},{"x":-0.025,"y":0.11},{"x":0.000,"y":-0.26},{"x":0.025,"y":0.23},{"x":0.050,"y":-0.05},{"x":0.075,"y":0.12},{"x":0.100,"y":0.19},{"x":0.125,"y":-0.12},{"x":0.150,"y":0.43},{"x":0.175,"y":0.08},{"x":0.200,"y":0.36},{"x":0.225,"y":-0.10},{"x":0.250,"y":0.26},{"x":0.275,"y":0.48},{"x":0.300,"y":0.12},{"x":0.325,"y":0.64},{"x":0.350,"y":0.29},{"x":0.375,"y":0.48},{"x":0.400,"y":0.11},{"x":0.425,"y":0.60},{"x":0.450,"y":0.31},{"x":0.475,"y":0.49},{"x":0.500,"y":0.56},{"x":0.525,"y":0.25},{"x":0.550,"y":0.80},{"x":0.575,"y":0.45},{"x":0.600,"y":0.73},{"x":0.625,"y":0.27},{"x":0.650,"y":0.63},{"x":0.675,"y":0.85},{"x":0.700,"y":0.48},{"x":0.725,"y":1.01},{"x":0.750,"y":0.66},{"x":0.775,"y":0.84},{"x":0.800,"y":0.48},{"x":0.825,"y":0.97},{"x":0.850,"y":0.68},{"x":0.875,"y":0.86},{"x":0.900,"y":0.93},{"x":0.925,"y":0.62},{"x":0.950,"y":1.16},{"x":0.975,"y":0.82},{"x":1.000,"y":1.10},{"x":1.025,"y":0.63},{"x":1.050,"y":1.00},{"x":1.075,"y":1.22},{"x":1.100,"y":0.85},
      {"x":0.005,"y":0.00},{"x":0.025,"y":0.29},{"x":0.045,"y":-0.17},{"x":0.065,"y":0.18},{"x":0.085,"y":-0.25},{"x":0.105,"y":0.28},{"x":0.125,"y":0.06},{"x":0.145,"y":0.43},{"x":0.165,"y":0.00},{"x":0.185,"y":0.26},{"x":0.205,"y":-0.08},{"x":0.225,"y":0.57},{"x":0.245,"y":0.14},{"x":0.265,"y":0.45},{"x":0.285,"y":0.08},{"x":0.305,"y":0.31},{"x":0.325,"y":0.30},{"x":0.345,"y":0.59},{"x":0.365,"y":0.13},{"x":0.385,"y":0.47},{"x":0.405,"y":0.04},{"x":0.425,"y":0.57},{"x":0.445,"y":0.35},{"x":0.465,"y":0.73},{"x":0.485,"y":0.30},{"x":0.505,"y":0.55},{"x":0.525,"y":0.21},{"x":0.545,"y":0.86},{"x":0.565,"y":0.43},{"x":0.585,"y":0.75},{"x":0.605,"y":0.38},{"x":0.625,"y":0.61},{"x":0.645,"y":0.59},{"x":0.665,"y":0.88},{"x":0.685,"y":0.42},{"x":0.705,"y":0.77},{"x":0.725,"y":0.34},{"x":0.745,"y":0.87},{"x":0.765,"y":0.64},{"x":0.785,"y":1.02},{"x":0.805,"y":0.59},{"x":0.825,"y":0.85},{"x":0.845,"y":0.51},{"x":0.865,"y":1.16},{"x":0.885,"y":0.72},{"x":0.905,"y":1.04},{"x":0.925,"y":0.67},{"x":0.945,"y":0.90},{"x":0.965,"y":0.89},{"x":0.985,"y":1.18},
      {"x":0.30,"y":0.75},{"x":0.36,"y":0.90},{"x":0.42,"y":0.82},{"x":0.50,"y":0.95},{"x":0.55,"y":1.02},{"x":0.62,"y":0.98},{"x":0.70,"y":1.05},{"x":0.75,"y":1.12},{"x":0.82,"y":1.08},{"x":0.86,"y":1.20},{"x":0.92,"y":1.18},{"x":0.98,"y":1.25},{"x":1.02,"y":1.05},{"x":1.06,"y":0.95},{"x":1.10,"y":0.88},{"x":1.14,"y":0.98},{"x":0.94,"y":0.40},{"x":0.88,"y":0.30},{"x":0.80,"y":0.20},{"x":0.72,"y":0.10},{"x":0.64,"y":0.12},{"x":0.58,"y":0.05},{"x":0.50,"y":-0.05},{"x":0.40,"y":-0.10},{"x":0.30,"y":-0.15},{"x":0.20,"y":-0.25},{"x":0.10,"y":-0.30},{"x":0.02,"y":-0.35},{"x":-0.06,"y":-0.30},{"x":-0.14,"y":-0.25},{"x":-0.22,"y":-0.40},{"x":-0.28,"y":-0.20},{"x":-0.32,"y":-0.45},{"x":-0.20,"y":0.10},{"x":-0.10,"y":0.30},{"x":0.00,"y":0.40},{"x":0.10,"y":0.50},{"x":0.18,"y":0.55},{"x":0.26,"y":0.62},{"x":0.15,"y":0.35},{"x":0.05,"y":0.28},{"x":-0.05,"y":0.15},
      {"x":1.35,"y":2.47},{"x":1.50,"y":2.34},{"x":0.96,"y":2.19},{"x":1.56,"y":2.13},{"x":1.50,"y":2.00},{"x":1.49,"y":1.97},{"x":1.55,"y":1.96},{"x":1.35,"y":1.92},{"x":1.45,"y":1.88},{"x":1.22,"y":1.90},{"x":1.13,"y":1.86},{"x":1.31,"y":1.81},{"x":1.13,"y":1.72},{"x":0.65,"y":1.62},{"x":1.04,"y":1.61},{"x":1.08,"y":1.59},{"x":1.09,"y":1.57},{"x":1.19,"y":1.61},{"x":1.22,"y":1.58},{"x":1.17,"y":1.53},{"x":1.20,"y":1.51},{"x":1.10,"y":1.49},{"x":1.12,"y":1.46},{"x":1.46,"y":1.42},{"x":1.40,"y":1.38},{"x":1.31,"y":1.38},{"x":0.89,"y":1.45},{"x":0.98,"y":1.44},{"x":0.91,"y":1.42},{"x":1.21,"y":1.42},{"x":1.04,"y":1.38},{"x":1.11,"y":1.39},{"x":0.76,"y":1.40},{"x":1.15,"y":1.32},{"x":1.27,"y":1.29},{"x":1.29,"y":1.24},{"x":1.31,"y":1.18},{"x":1.22,"y":1.06},{"x":1.28,"y":1.04},{"x":1.28,"y":0.89},{"x":1.34,"y":0.74},{"x":1.30,"y":0.56},{"x":1.26,"y":0.49},{"x":1.24,"y":0.26},{"x":1.17,"y":0.22},{"x":1.10,"y":0.04},{"x":1.52,"y":0.13},{"x":0.95,"y":-0.06},{"x":1.00,"y":0.15},{"x":0.96,"y":0.10},{"x":0.73,"y":-0.37},{"x":0.76,"y":-0.25},{"x":0.65,"y":-0.11},{"x":0.65,"y":-0.05},{"x":0.47,"y":-0.31},{"x":0.40,"y":-0.30},{"x":0.33,"y":-0.30},{"x":0.52,"y":-0.26},{"x":0.25,"y":-0.52},{"x":0.13,"y":-0.53},{"x":0.07,"y":-0.54},{"x":-0.04,"y":-0.54},{"x":-0.16,"y":-0.61},{"x":-0.21,"y":-0.61},{"x":-0.36,"y":-0.63},{"x":-0.36,"y":-0.56},{"x":-0.46,"y":-0.73},{"x":-0.56,"y":-0.73},{"x":-0.59,"y":-0.66},{"x":-0.67,"y":-0.53},{"x":-0.71,"y":-0.46},{"x":-0.74,"y":-0.45},{"x":-0.65,"y":-0.42},{"x":-0.75,"y":-0.25},{"x":-0.58,"y":-0.26},{"x":-0.51,"y":-0.26},{"x":-0.45,"y":-0.31},{"x":-0.52,"y":-0.43},{"x":-0.47,"y":-0.42},{"x":-0.46,"y":-0.57},{"x":-0.50,"y":-0.17},{"x":-0.49,"y":-0.09},{"x":-0.48,"y":0.11},{"x":-0.45,"y":0.13},{"x":-0.41,"y":-0.18},{"x":-0.39,"y":-0.05},{"x":-0.37,"y":-0.14},{"x":-0.31,"y":0.30},{"x":-0.24,"y":0.42},{"x":-0.26,"y":0.12},{"x":-0.13,"y":0.49},{"x":-0.08,"y":0.51},{"x":-0.01,"y":0.65},{"x":0.00,"y":0.59},{"x":0.07,"y":0.74},{"x":0.11,"y":0.72},{"x":0.17,"y":0.72},{"x":0.23,"y":1.24},{"x":0.22,"y":1.00},{"x":0.31,"y":1.17},{"x":0.43,"y":1.22},{"x":0.46,"y":1.17},{"x":0.53,"y":1.24},{"x":0.61,"y":1.32},{"x":0.68,"y":1.27},{"x":0.72,"y":1.28},{"x":0.78,"y":1.27},{"x":0.47,"y":1.00},{"x":0.54,"y":1.08}
    ],
    "d1": [{"x":-0.75,"y":-0.75},{"x":2.30,"y":2.30}],
    "d2": [{"x":-1.12,"y":-1.12},{"x":2.05,"y":2.05}],
    "d3": [{"x":-1.22,"y":-1.22},{"x":2.54,"y":2.54}],
    "d4": [{"x":-0.75,"y":-0.75},{"x":2.47,"y":2.47}],
    "zero": [{"x":0,"y":0}]
  },
  "columns": 2,
  "spacing": {"row": 13, "column": 15},
  "concat": [
    {
      "title": "naive LinearDML",
      "width": 635, "height": 478,
      "layer": [
        {"data": {"name": "zero"}, "mark": {"type": "rule", "color": "#555555", "strokeDash": [1, 1.6], "strokeWidth": 1},
          "encoding": {"x": {"field": "x", "type": "quantitative", "scale": {"domain": [-1.4, 2.73], "nice": false, "zero": false}, "axis": {"values": [-1, -0.5, 0, 0.5, 1, 1.5, 2, 2.5], "labels": false, "title": null}}}},
        {"data": {"name": "zero"}, "mark": {"type": "rule", "color": "#555555", "strokeDash": [1, 1.6], "strokeWidth": 1},
          "encoding": {"y": {"field": "y", "type": "quantitative", "scale": {"domain": [-1.41, 2.75], "nice": false, "zero": false}, "axis": {"values": [-1, -0.5, 0, 0.5, 1, 1.5, 2, 2.5], "format": ".1f", "title": "Estimated effect"}}}},
        {"data": {"name": "p1"}, "mark": {"type": "circle", "size": 42, "color": "#2a69e9", "opacity": 0.6, "stroke": "white", "strokeWidth": 0.6},
          "encoding": {
            "x": {"field": "x", "type": "quantitative", "scale": {"domain": [-1.4, 2.73], "nice": false, "zero": false}, "axis": {"values": [-1, -0.5, 0, 0.5, 1, 1.5, 2, 2.5], "labels": false, "title": null}},
            "y": {"field": "y", "type": "quantitative", "scale": {"domain": [-1.41, 2.75], "nice": false, "zero": false}, "axis": {"values": [-1, -0.5, 0, 0.5, 1, 1.5, 2, 2.5], "format": ".1f", "title": "Estimated effect"}}
          }},
        {"data": {"name": "d1"}, "mark": {"type": "line", "color": "#111111", "strokeDash": [4, 2], "strokeWidth": 1.2},
          "encoding": {
            "x": {"field": "x", "type": "quantitative", "scale": {"domain": [-1.4, 2.73], "nice": false, "zero": false}, "axis": {"values": [-1, -0.5, 0, 0.5, 1, 1.5, 2, 2.5], "labels": false, "title": null}},
            "y": {"field": "y", "type": "quantitative", "scale": {"domain": [-1.41, 2.75], "nice": false, "zero": false}, "axis": {"values": [-1, -0.5, 0, 0.5, 1, 1.5, 2, 2.5], "format": ".1f", "title": "Estimated effect"}}
          }}
      ]
    },
    {
      "title": "DMLIV",
      "width": 635, "height": 478,
      "layer": [
        {"data": {"name": "zero"}, "mark": {"type": "rule", "color": "#555555", "strokeDash": [1, 1.6], "strokeWidth": 1},
          "encoding": {"x": {"field": "x", "type": "quantitative", "scale": {"domain": [-1.4, 2.73], "nice": false, "zero": false}, "axis": {"values": [-1, -0.5, 0, 0.5, 1, 1.5, 2, 2.5], "labels": false, "title": null}}}},
        {"data": {"name": "zero"}, "mark": {"type": "rule", "color": "#555555", "strokeDash": [1, 1.6], "strokeWidth": 1},
          "encoding": {"y": {"field": "y", "type": "quantitative", "scale": {"domain": [-1.41, 2.75], "nice": false, "zero": false}, "axis": {"values": [-1, -0.5, 0, 0.5, 1, 1.5, 2, 2.5], "labels": false, "title": null}}}},
        {"data": {"name": "p2"}, "mark": {"type": "circle", "size": 42, "color": "#2a69e9", "opacity": 0.6, "stroke": "white", "strokeWidth": 0.6},
          "encoding": {
            "x": {"field": "x", "type": "quantitative", "scale": {"domain": [-1.4, 2.73], "nice": false, "zero": false}, "axis": {"values": [-1, -0.5, 0, 0.5, 1, 1.5, 2, 2.5], "labels": false, "title": null}},
            "y": {"field": "y", "type": "quantitative", "scale": {"domain": [-1.41, 2.75], "nice": false, "zero": false}, "axis": {"values": [-1, -0.5, 0, 0.5, 1, 1.5, 2, 2.5], "labels": false, "title": null}}
          }},
        {"data": {"name": "d2"}, "mark": {"type": "line", "color": "#111111", "strokeDash": [4, 2], "strokeWidth": 1.2},
          "encoding": {
            "x": {"field": "x", "type": "quantitative", "scale": {"domain": [-1.4, 2.73], "nice": false, "zero": false}, "axis": {"values": [-1, -0.5, 0, 0.5, 1, 1.5, 2, 2.5], "labels": false, "title": null}},
            "y": {"field": "y", "type": "quantitative", "scale": {"domain": [-1.41, 2.75], "nice": false, "zero": false}, "axis": {"values": [-1, -0.5, 0, 0.5, 1, 1.5, 2, 2.5], "labels": false, "title": null}}
          }}
      ]
    },
    {
      "title": "OrthoIV",
      "width": 635, "height": 478,
      "layer": [
        {"data": {"name": "zero"}, "mark": {"type": "rule", "color": "#555555", "strokeDash": [1, 1.6], "strokeWidth": 1},
          "encoding": {"x": {"field": "x", "type": "quantitative", "scale": {"domain": [-1.4, 2.73], "nice": false, "zero": false}, "axis": {"values": [-1, -0.5, 0, 0.5, 1, 1.5, 2, 2.5], "format": ".1f", "title": "True effect"}}}},
        {"data": {"name": "zero"}, "mark": {"type": "rule", "color": "#555555", "strokeDash": [1, 1.6], "strokeWidth": 1},
          "encoding": {"y": {"field": "y", "type": "quantitative", "scale": {"domain": [-1.41, 2.75], "nice": false, "zero": false}, "axis": {"values": [-1, -0.5, 0, 0.5, 1, 1.5, 2, 2.5], "format": ".1f", "title": "Estimated effect"}}}},
        {"data": {"name": "p3"}, "mark": {"type": "circle", "size": 42, "color": "#2a69e9", "opacity": 0.6, "stroke": "white", "strokeWidth": 0.6},
          "encoding": {
            "x": {"field": "x", "type": "quantitative", "scale": {"domain": [-1.4, 2.73], "nice": false, "zero": false}, "axis": {"values": [-1, -0.5, 0, 0.5, 1, 1.5, 2, 2.5], "format": ".1f", "title": "True effect"}},
            "y": {"field": "y", "type": "quantitative", "scale": {"domain": [-1.41, 2.75], "nice": false, "zero": false}, "axis": {"values": [-1, -0.5, 0, 0.5, 1, 1.5, 2, 2.5], "format": ".1f", "title": "Estimated effect"}}
          }},
        {"data": {"name": "d3"}, "mark": {"type": "line", "color": "#111111", "strokeDash": [4, 2], "strokeWidth": 1.2},
          "encoding": {
            "x": {"field": "x", "type": "quantitative", "scale": {"domain": [-1.4, 2.73], "nice": false, "zero": false}, "axis": {"values": [-1, -0.5, 0, 0.5, 1, 1.5, 2, 2.5], "format": ".1f", "title": "True effect"}},
            "y": {"field": "y", "type": "quantitative", "scale": {"domain": [-1.41, 2.75], "nice": false, "zero": false}, "axis": {"values": [-1, -0.5, 0, 0.5, 1, 1.5, 2, 2.5], "format": ".1f", "title": "Estimated effect"}}
          }}
      ]
    },
    {
      "title": "NonParamDMLIV",
      "width": 635, "height": 478,
      "layer": [
        {"data": {"name": "zero"}, "mark": {"type": "rule", "color": "#555555", "strokeDash": [1, 1.6], "strokeWidth": 1},
          "encoding": {"x": {"field": "x", "type": "quantitative", "scale": {"domain": [-1.4, 2.73], "nice": false, "zero": false}, "axis": {"values": [-1, -0.5, 0, 0.5, 1, 1.5, 2, 2.5], "format": ".1f", "title": "True effect"}}}},
        {"data": {"name": "zero"}, "mark": {"type": "rule", "color": "#555555", "strokeDash": [1, 1.6], "strokeWidth": 1},
          "encoding": {"y": {"field": "y", "type": "quantitative", "scale": {"domain": [-1.41, 2.75], "nice": false, "zero": false}, "axis": {"values": [-1, -0.5, 0, 0.5, 1, 1.5, 2, 2.5], "labels": false, "title": null}}}},
        {"data": {"name": "p4"}, "mark": {"type": "circle", "size": 42, "color": "#2a69e9", "opacity": 0.6, "stroke": "white", "strokeWidth": 0.6},
          "encoding": {
            "x": {"field": "x", "type": "quantitative", "scale": {"domain": [-1.4, 2.73], "nice": false, "zero": false}, "axis": {"values": [-1, -0.5, 0, 0.5, 1, 1.5, 2, 2.5], "format": ".1f", "title": "True effect"}},
            "y": {"field": "y", "type": "quantitative", "scale": {"domain": [-1.41, 2.75], "nice": false, "zero": false}, "axis": {"values": [-1, -0.5, 0, 0.5, 1, 1.5, 2, 2.5], "labels": false, "title": null}}
          }},
        {"data": {"name": "d4"}, "mark": {"type": "line", "color": "#111111", "strokeDash": [4, 2], "strokeWidth": 1.2},
          "encoding": {
            "x": {"field": "x", "type": "quantitative", "scale": {"domain": [-1.4, 2.73], "nice": false, "zero": false}, "axis": {"values": [-1, -0.5, 0, 0.5, 1, 1.5, 2, 2.5], "format": ".1f", "title": "True effect"}},
            "y": {"field": "y", "type": "quantitative", "scale": {"domain": [-1.41, 2.75], "nice": false, "zero": false}, "axis": {"values": [-1, -0.5, 0, 0.5, 1, 1.5, 2, 2.5], "labels": false, "title": null}}
          }}
      ]
    }
  ]
}
